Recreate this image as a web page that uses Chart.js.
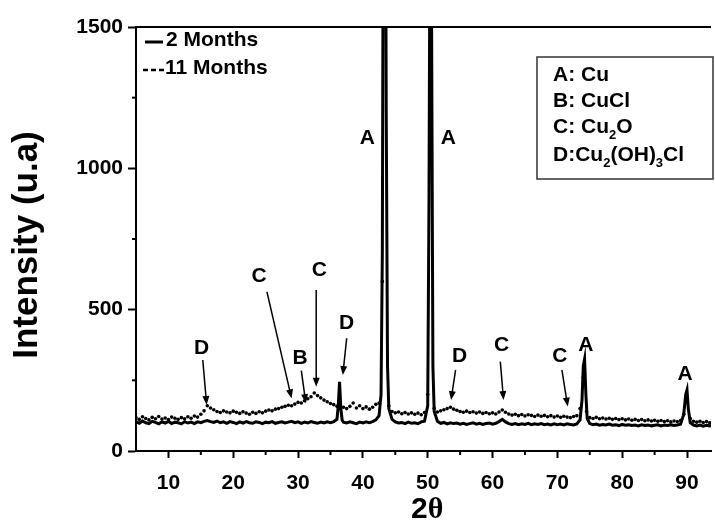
<!DOCTYPE html>
<html>
<head>
<meta charset="utf-8">
<script src="https://cdn.jsdelivr.net/npm/chart.js@4.4.1/dist/chart.umd.min.js"></script>
<style>
  html, body { margin: 0; padding: 0; background: #fff; overflow: hidden; }
  #wrap { width: 715px; height: 526px; position: relative; }
</style>
</head>
<body>
<div id="wrap"><canvas id="xrd" width="715" height="526"></canvas></div>
<script>
// 2 Months (solid line)
const angle2M = [5, 5.5, 6, 6.5, 7, 7.5, 8, 8.5, 9, 9.5, 10, 10.5, 11, 11.5, 12, 12.5, 13, 13.5, 14, 14.5,
    15, 15.5, 16, 16.5, 17, 17.5, 18, 18.5, 19, 19.5, 20, 20.5, 21, 21.5, 22, 22.5, 23, 23.5, 24, 24.5,
    25, 25.5, 26, 26.5, 27, 27.5, 28, 28.5, 29, 29.5, 30, 30.5, 31, 31.5, 32, 32.5, 33, 33.5, 34, 34.5,
    35, 35.5, 36, 36.2, 36.4, 36.6, 36.8, 37, 37.5, 38, 38.5, 39, 39.5, 40, 40.5, 41, 41.5, 42, 42.5, 42.8,
    43, 43.2, 43.4, 43.6, 43.8, 44, 44.5, 45, 45.5, 46, 46.5, 47, 47.5, 48, 48.5, 49, 49.5, 50, 50.2,
    50.4, 50.6, 50.8, 51, 51.5, 52, 52.5, 53, 53.5, 54, 54.5, 55, 55.5, 56, 56.5, 57, 57.5, 58, 58.5,
    59, 59.5, 60, 60.5, 61, 61.5, 62, 62.5, 63, 63.5, 64, 64.5, 65, 65.5, 66, 66.5, 67, 67.5, 68, 68.5,
    69, 69.5, 70, 70.5, 71, 71.5, 72, 72.5, 73, 73.5, 73.8, 74, 74.2, 74.4, 74.6, 75, 75.5, 76, 76.5,
    77, 77.5, 78, 78.5, 79, 79.5, 80, 80.5, 81, 81.5, 82, 82.5, 83, 83.5, 84, 84.5, 85, 85.5, 86, 86.5,
    87, 87.5, 88, 88.5, 89, 89.5, 89.8, 90, 90.2, 90.5, 91, 91.5, 92, 92.5, 93, 93.5, 94];
const counts2M = [104, 98, 106, 100, 97, 105, 101, 96, 103, 99, 105, 97, 102, 100, 96, 104, 99, 102, 97, 103,
    100, 105, 108, 104, 101, 106, 100, 103, 98, 104, 101, 97, 103, 99, 104, 100, 98, 103, 101, 97,
    102, 100, 104, 98, 101, 103, 99, 102, 105, 100, 103, 98, 102, 99, 104, 101, 98, 102, 99, 103,
    100, 104, 112, 160, 245, 150, 110, 102, 99, 103, 100, 97, 102, 99, 103, 100, 104, 110, 125, 200,
    700, 2500, 2800, 1200, 300, 150, 112, 103, 99, 101, 97, 102, 98, 100, 97, 103, 105, 160, 900,
    2200, 1500, 300, 140, 105, 98, 101, 96, 100, 97, 99, 95, 98, 94, 97, 100, 95, 98, 94,
    97, 99, 95, 98, 104, 112, 103, 97, 94, 97, 93, 96, 94, 98, 93, 96, 94, 97, 93, 95,
    92, 96, 93, 95, 92, 96, 94, 92, 96, 110, 180, 300, 325, 200, 115, 97, 93, 95, 91,
    94, 92, 95, 91, 93, 90, 94, 91, 93, 90, 92, 89, 93, 90, 92, 89, 91, 93, 89, 92,
    90, 93, 90, 92, 95, 130, 200, 216, 150, 100, 92, 89, 92, 88, 91, 89, 92];

// 11 Months (dotted)
const angle11M = [5, 5.5, 6, 6.5, 7, 7.5, 8, 8.5, 9, 9.5, 10, 10.5, 11, 11.5, 12, 12.5, 13, 13.5, 14, 14.5,
    15, 15.5, 16, 16.5, 17, 17.5, 18, 18.5, 19, 19.5, 20, 20.5, 21, 21.5, 22, 22.5, 23, 23.5, 24, 24.5,
    25, 25.5, 26, 26.5, 27, 27.5, 28, 28.5, 29, 29.5, 30, 30.5, 31, 31.5, 32, 32.5, 33, 33.5, 34, 34.5,
    35, 35.5, 36, 36.5, 37, 37.5, 38, 38.5, 39, 39.5, 40, 40.5, 41, 41.5, 42, 42.5, 43, 43.5, 44, 44.5,
    45, 45.5, 46, 46.5, 47, 47.5, 48, 48.5, 49, 49.5, 50, 50.5, 51, 51.5, 52, 52.5, 53, 53.5, 54, 54.5,
    55, 55.5, 56, 56.5, 57, 57.5, 58, 58.5, 59, 59.5, 60, 60.5, 61, 61.5, 62, 62.5, 63, 63.5, 64, 64.5,
    65, 65.5, 66, 66.5, 67, 67.5, 68, 68.5, 69, 69.5, 70, 70.5, 71, 71.5, 72, 72.5, 73, 73.5, 74, 74.5,
    75, 75.5, 76, 76.5, 77, 77.5, 78, 78.5, 79, 79.5, 80, 80.5, 81, 81.5, 82, 82.5, 83, 83.5, 84, 84.5,
    85, 85.5, 86, 86.5, 87, 87.5, 88, 88.5, 89, 89.5, 90, 90.5, 91, 91.5, 92, 92.5, 93, 93.5];
const counts11M = [118, 112, 121, 115, 110, 119, 114, 122, 113, 117, 111, 120, 116, 112, 118, 114, 121, 116, 124, 120,
    130, 142, 160, 152, 146, 140, 136, 142, 138, 135, 141, 137, 133, 139, 134, 130, 137, 133, 139, 135,
    141, 145, 142, 148, 150, 155, 158, 162, 160, 166, 172, 170, 178, 185, 192, 205, 196, 188, 180, 174,
    168, 164, 158, 165, 155, 150, 158, 170, 152, 160, 150, 156, 148, 155, 165, 170, 600, 1800, 160, 140,
    135, 138, 132, 136, 131, 135, 130, 134, 128, 136, 200, 1200, 150, 138, 142, 146, 150, 155, 148, 144,
    140, 137, 141, 136, 139, 134, 138, 133, 136, 132, 135, 131, 138, 145, 137, 131, 127, 130, 125, 129,
    124, 128, 126, 122, 127, 123, 126, 121, 125, 120, 124, 119, 123, 120, 118, 122, 125, 150, 260, 140,
    118, 115, 119, 114, 117, 113, 116, 112, 115, 111, 114, 110, 113, 109, 112, 108, 111, 107, 110, 106,
    109, 105, 108, 104, 107, 103, 106, 104, 108, 130, 180, 115, 105, 102, 105, 101, 104, 100];

const xTicks = [10, 20, 30, 40, 50, 60, 70, 80, 90];
const xMinorTicks = [15, 25, 35, 45, 55, 65, 75, 85];
const yTicks = [0, 500, 1000, 1500];
const yMinorTicks = [250, 750, 1250];

// peak labels: text, label position, arrow from -> to (data units)
const peakNotes = [
    { t: 'D', x: 15.1, y: 364, a: [15.3, 322, 15.9, 163] },
    { t: 'C', x: 24.0, y: 617, a: [25.2, 563, 29.0, 186] },
    { t: 'B', x: 30.3, y: 328, a: [30.5, 284, 31.2, 169] },
    { t: 'C', x: 33.3, y: 640, a: [32.8, 570, 32.8, 227] },
    { t: 'D', x: 37.5, y: 452, a: [37.5, 399, 36.9, 269] },
    { t: 'A', x: 40.7, y: 1108 },
    { t: 'A', x: 53.2, y: 1108 },
    { t: 'D', x: 54.9, y: 336, a: [54.3, 287, 53.6, 180] },
    { t: 'C', x: 61.4, y: 375, a: [61.2, 316, 61.7, 180] },
    { t: 'C', x: 70.4, y: 334, a: [70.7, 287, 71.6, 157] },
    { t: 'A', x: 74.4, y: 375 },
    { t: 'A', x: 89.7, y: 272 }
];

const FONT = '"Liberation Sans", Arial, sans-serif';

function drawArrow(ctx, x1, y1, x2, y2) {
    const ang = Math.atan2(y2 - y1, x2 - x1);
    const hl = 9, hw = 3.5;
    ctx.beginPath();
    ctx.moveTo(x1, y1);
    ctx.lineTo(x2 - Math.cos(ang) * hl * 0.8, y2 - Math.sin(ang) * hl * 0.8);
    ctx.stroke();
    ctx.beginPath();
    ctx.moveTo(x2, y2);
    ctx.lineTo(x2 - Math.cos(ang) * hl - Math.sin(ang) * hw, y2 - Math.sin(ang) * hl + Math.cos(ang) * hw);
    ctx.lineTo(x2 - Math.cos(ang) * hl + Math.sin(ang) * hw, y2 - Math.sin(ang) * hl - Math.cos(ang) * hw);
    ctx.closePath();
    ctx.fill();
}

// draws text pieces with subscripts, e.g. [['Cu',0],['2',1],['O',0]]
function drawRich(ctx, parts, x, y) {
    let cx = x;
    parts.forEach(([s, sub]) => {
        ctx.font = sub ? 'bold 13px ' + FONT : 'bold 21px ' + FONT;
        ctx.fillText(s, cx, sub ? y + 8 : y);
        cx += ctx.measureText(s).width;
    });
}

const decorPlugin = {
    id: 'decor',
    afterDraw(chart) {
        const { ctx, chartArea } = chart;
        const xs = chart.scales.x, ys = chart.scales.y;
        ctx.save();
        ctx.strokeStyle = '#000';
        ctx.fillStyle = '#000';

        // top frame line
        ctx.lineWidth = 2;
        ctx.beginPath();
        ctx.moveTo(chartArea.left, chartArea.top);
        ctx.lineTo(chartArea.right, chartArea.top);
        ctx.stroke();

        // minor ticks
        ctx.lineWidth = 2;
        xMinorTicks.forEach(v => {
            const px = xs.getPixelForValue(v);
            ctx.beginPath();
            ctx.moveTo(px, chartArea.bottom);
            ctx.lineTo(px, chartArea.bottom + 4);
            ctx.stroke();
        });
        yMinorTicks.forEach(v => {
            const py = ys.getPixelForValue(v);
            ctx.beginPath();
            ctx.moveTo(chartArea.left, py);
            ctx.lineTo(chartArea.left - 4, py);
            ctx.stroke();
        });

        // peak labels and arrows
        ctx.font = 'bold 21px ' + FONT;
        ctx.textAlign = 'center';
        ctx.textBaseline = 'middle';
        ctx.lineWidth = 1.5;
        peakNotes.forEach(n => {
            ctx.fillText(n.t, xs.getPixelForValue(n.x), ys.getPixelForValue(n.y));
            if (n.a) {
                drawArrow(ctx,
                    xs.getPixelForValue(n.a[0]), ys.getPixelForValue(n.a[1]),
                    xs.getPixelForValue(n.a[2]), ys.getPixelForValue(n.a[3]));
            }
        });

        // axis titles
        ctx.save();
        ctx.translate(27, 245);
        ctx.rotate(-Math.PI / 2);
        ctx.font = 'bold 35px ' + FONT;
        ctx.fillText('Intensity (u.a)', 0, 0);
        ctx.restore();

        ctx.textAlign = 'left';
        ctx.font = 'bold 30px ' + FONT;
        const w2 = ctx.measureText('2').width;
        ctx.fillText('2', 411, 510);
        ctx.font = 'bold 30px "Liberation Serif", serif';
        ctx.fillText('\u03b8', 411 + w2, 510);

        // series legend (top left)
        ctx.font = 'bold 21px ' + FONT;
        ctx.lineWidth = 3;
        ctx.beginPath();
        ctx.moveTo(145, 42);
        ctx.lineTo(163, 42);
        ctx.stroke();
        ctx.fillText('2 Months', 166, 40);
        ctx.lineWidth = 2.5;
        [[143, 148], [151, 156], [159, 164]].forEach(([a, b]) => {
            ctx.beginPath();
            ctx.moveTo(a, 70);
            ctx.lineTo(b, 70);
            ctx.stroke();
        });
        ctx.fillText('11 Months', 165, 68);

        // phase key box
        ctx.lineWidth = 1.5;
        ctx.strokeStyle = '#333';
        ctx.strokeRect(537, 57, 176, 122);
        drawRich(ctx, [['A: Cu', 0]], 553, 75);
        drawRich(ctx, [['B: CuCl', 0]], 553, 101);
        drawRich(ctx, [['C: Cu', 0], ['2', 1], ['O', 0]], 553, 127);
        drawRich(ctx, [['D:Cu', 0], ['2', 1], ['(OH)', 0], ['3', 1], ['Cl', 0]], 553, 155);

        ctx.restore();
    }
};

const toPoints = (xs, ys) => xs.map((v, i) => ({ x: v, y: ys[i] }));

new Chart(document.getElementById('xrd'), {
    type: 'line',
    data: {
        datasets: [{
            label: '2 Months',
            data: toPoints(angle2M, counts2M),
            borderColor: '#000',
            borderWidth: 3,
            pointRadius: 0,
            tension: 0
        }, {
            label: '11 Months',
            data: toPoints(angle11M, counts11M),
            showLine: false,
            pointRadius: 1.8,
            pointBorderWidth: 0,
            pointBackgroundColor: '#000',
            borderColor: '#000'
        }]
    },
    options: {
        responsive: false,
        animation: false,
        events: [],
        layout: { padding: { top: 27, right: 0, left: 0, bottom: 0 } },
        plugins: { legend: { display: false }, tooltip: { enabled: false } },
        scales: {
            x: {
                type: 'linear',
                min: 5,
                max: 93.7,
                afterBuildTicks: axis => { axis.ticks = xTicks.map(v => ({ value: v })); },
                afterFit: axis => { axis.height = 75; },
                border: { display: true, color: '#000', width: 2 },
                grid: { drawOnChartArea: false, tickLength: 7, tickColor: '#000', tickWidth: 2 },
                ticks: {
                    color: '#000', font: { family: FONT, size: 21, weight: 'bold' }, padding: 13, maxRotation: 0,
                    callback: v => String(v)
                }
            },
            y: {
                min: 0,
                max: 1500,
                afterBuildTicks: axis => { axis.ticks = yTicks.map(v => ({ value: v })); },
                afterFit: axis => { axis.width = 136; },
                border: { display: true, color: '#000', width: 2 },
                grid: { drawOnChartArea: false, tickLength: 8, tickColor: '#000', tickWidth: 2 },
                ticks: {
                    color: '#000', font: { family: FONT, size: 21, weight: 'bold' }, padding: 5,
                    callback: v => String(v)
                }
            }
        }
    },
    plugins: [decorPlugin]
});
</script>
</body>
</html>
